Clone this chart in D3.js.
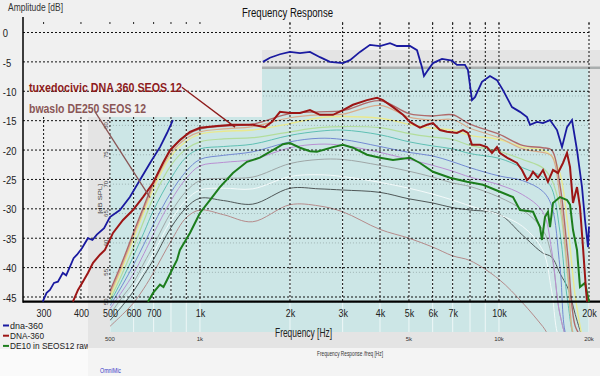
<!DOCTYPE html>
<html><head><meta charset="utf-8">
<script src="https://cdn.jsdelivr.net/npm/d3@7"></script>
<style>
html,body{margin:0;padding:0;background:#f0f0f0;overflow:hidden}
svg{display:block}
text{font-family:'Liberation Sans',Arial,sans-serif}
</style></head><body>
<svg id="c" width="600" height="376"></svg>
<script>
// ---------------- DATA ----------------
const xTickValues = [300,400,500,600,700,1000,2000,3000,4000,5000,6000,7000,10000,20000];
const xTickLabels = ['300','400','500','600','700','1k','2k','3k','4k','5k','6k','7k','10k','20k'];
const xGridValues = [300,400,500,600,700,800,900,1000,2000,3000,4000,5000,6000,7000,8000,9000,10000,20000];
const yTickValues = [0,-5,-10,-15,-20,-25,-30,-35,-40,-45];
const omniGridDb = [90,85,80,75,70,65,60,55,50];
const omniLabelDb = [80,75,70,65,60,55,50];
const omniXTicks = [500,1000,5000,10000,20000];
const omniXLabels = ['500','1k','5k','10k','20k'];
const omniGridFreq = [500,600,700,800,900,1000,2000,3000,4000,5000,6000,7000,8000,9000,10000,20000];
const legendNames = ['dna-360','DNA-360','DE10 in SEOS12 raw'];
const annotationTexts = ['tuxedocivic DNA 360 SEOS 12','bwaslo DE250 SEOS 12'];

// dna-360 (blue) – low and high visible parts
const blueLowFreq = [298,307,315,325,335,348,357,367,378,388,403,422,437,452,478,500,540,583,630,681,735,776,812];
const blueLowDb   = [-45.8,-44.3,-43.8,-42.6,-42.4,-40.9,-41.3,-39.9,-38.4,-37.8,-36.7,-35.0,-35.3,-34.4,-33.3,-31.4,-30.2,-28.0,-25.1,-22.2,-19.5,-17.1,-14.9];
const blueHighFreq = [1624,1714,1852,2000,2160,2333,2520,2721,3008,3175,3429,3704,4000,4320,4559,5039,5319,5527,5613,5788,6016,6448,6962,7235,7695,7875,8122,8311,8772,9330,9846,10313,11053,11752,12408,12699,13401,14036,14812,15632,16246,16884,17545,18235,18951,19393,19848,20000];
const blueHighDb   = [-5.0,-4.3,-3.7,-3.3,-3.5,-3.3,-4.2,-5.0,-5.2,-4.7,-3.3,-2.1,-2.3,-1.8,-2.3,-2.3,-3.0,-5.9,-7.4,-6.4,-5.2,-4.5,-4.8,-5.5,-5.5,-6.4,-11.5,-11.0,-8.4,-7.4,-8.1,-9.8,-12.7,-13.5,-14.4,-15.7,-15.2,-15.4,-14.9,-16.6,-19.5,-16.1,-14.9,-20.0,-26.3,-31.9,-36.5,-33.0];

// DNA-360 (dark red)
const redFreq = [376,391,406,422,439,463,481,512,553,597,645,697,752,794,857,926,1000,1140,1289,1504,1650,1741,1852,2000,2160,2333,2520,2785,3008,3249,3619,3908,4093,4422,4776,5039,5237,5442,5743,6016,6348,6701,7235,7580,7875,8122,8639,9118,9476,9846,10077,10636,11486,11937,12408,12699,12996,13503,14036,14583,15156,15752,16368,16884,17282,17683,18235,18660,19094,19543,19700];
const redDb   = [-45.8,-43.8,-42.4,-40.9,-39.2,-37.8,-37.0,-34.1,-31.9,-30.2,-28.0,-25.6,-22.2,-20.0,-18.3,-16.9,-16.2,-15.9,-15.7,-15.7,-16.1,-15.2,-13.5,-13.7,-13.7,-13.2,-14.0,-14.0,-13.2,-12.3,-11.5,-11.1,-11.5,-12.7,-14.0,-15.2,-15.7,-16.2,-15.7,-15.4,-16.6,-16.9,-17.1,-16.6,-17.1,-19.1,-19.1,-19.5,-20.5,-19.5,-20.5,-21.3,-22.2,-23.4,-25.1,-24.6,-23.7,-24.7,-23.4,-25.4,-23.4,-23.9,-22.2,-20.5,-22.9,-29.0,-26.3,-29.7,-36.5,-43.8,-45.8];

// DE10 in SEOS12 raw (green)
const greenFreq = [670,697,735,755,776,806,838,857,926,1000,1080,1166,1289,1436,1587,1754,1895,2000,2160,2333,2462,2785,3008,3249,3619,4000,4422,5039,5442,6016,6858,7816,8842,10077,11140,11752,12996,13713,13925,14250,14583,14812,15156,15996,16884,17282,17683,18235,18660,19393,19848,20000];
const greenDb   = [-45.8,-44.3,-42.9,-43.3,-42.1,-40.4,-38.7,-37.0,-34.1,-30.7,-28.5,-26.3,-23.9,-22.0,-21.3,-20.0,-19.0,-18.8,-19.6,-20.2,-20.3,-19.5,-19.1,-19.6,-20.8,-21.3,-21.7,-21.3,-22.2,-23.7,-24.7,-25.4,-25.9,-27.1,-28.0,-30.2,-30.5,-33.1,-35.3,-31.4,-30.5,-33.1,-29.0,-28.0,-28.5,-29.3,-33.6,-37.0,-43.3,-42.6,-45.0,-45.8];

// OmniMic overlay curves (same frequency grid)
const omniFreq = [500,550,600,650,700,800,900,1000,1200,1500,2000,2500,3000,4000,5000,6000,7000,8000,10000,12000,14000,15000,16000,17000,18000,19000];
const omniBrown  = [-44.0,-39.0,-34.0,-29.5,-25.5,-20.0,-17.5,-16.4,-15.9,-15.6,-13.8,-13.5,-13.3,-11.6,-13.8,-14.2,-14.0,-15.6,-17.3,-19.2,-19.6,-20.0,-26.0,-38.0,-50.0,-52.0];
const omniTan    = [-44.5,-39.5,-34.5,-30.0,-26.0,-20.5,-18.0,-16.9,-16.4,-16.0,-14.5,-14.0,-13.9,-12.4,-14.4,-14.9,-14.8,-16.3,-17.9,-19.8,-20.4,-21.0,-28.0,-41.0,-52.0,-52.0];
const omniYellow = [-45.0,-40.0,-35.0,-30.5,-26.5,-21.0,-18.5,-17.3,-16.8,-16.6,-15.5,-14.5,-14.3,-14.6,-15.6,-16.3,-16.6,-17.5,-18.2,-19.5,-20.0,-21.0,-24.0,-33.0,-45.0,-52.0];
const omniLtGreen= [-45.5,-41.0,-36.5,-32.0,-28.0,-22.6,-19.8,-18.6,-18.1,-17.9,-16.9,-16.2,-16.0,-16.2,-17.2,-17.8,-18.2,-19.2,-20.2,-21.6,-23.0,-25.0,-30.0,-42.0,-52.0,-52.0];
const omniTeal   = [-46.0,-42.0,-38.0,-34.0,-30.2,-24.8,-21.2,-19.8,-19.4,-19.0,-17.5,-16.8,-16.6,-17.4,-18.6,-19.3,-19.8,-20.6,-21.4,-23.0,-24.6,-26.5,-34.0,-46.0,-52.0,-52.0];
const omniBlue   = [-46.5,-43.0,-39.5,-36.0,-32.6,-27.2,-23.6,-21.6,-20.9,-20.3,-18.6,-18.0,-18.2,-19.4,-20.4,-21.0,-22.0,-23.0,-24.4,-25.2,-27.0,-29.5,-40.0,-52.0,-52.0,-52.0];
const omniPurple = [-47.0,-44.0,-41.0,-37.6,-34.2,-28.6,-24.8,-22.7,-22.1,-21.6,-19.6,-19.0,-19.2,-20.4,-21.6,-22.6,-23.6,-24.6,-25.9,-27.6,-30.5,-37.0,-48.0,-52.0,-52.0,-52.0];
const omniGray   = [-48.0,-45.0,-42.5,-39.2,-36.2,-30.6,-27.0,-25.2,-24.8,-24.6,-22.3,-21.6,-21.6,-22.6,-23.6,-24.6,-25.6,-26.2,-28.0,-30.2,-33.5,-38.0,-48.0,-52.0,-52.0,-52.0];
const omniWhite  = [-48.5,-46.0,-43.5,-40.5,-37.5,-32.0,-28.5,-26.8,-26.5,-26.6,-24.5,-24.2,-24.5,-25.5,-26.5,-27.5,-28.5,-29.5,-31.0,-33.0,-37.0,-44.0,-52.0,-52.0,-52.0,-52.0];
const omniDkGray = [-49.0,-46.5,-44.0,-41.2,-38.6,-33.2,-29.8,-28.2,-28.6,-29.2,-26.5,-26.6,-26.8,-27.2,-28.3,-29.0,-29.8,-30.2,-30.9,-34.5,-37.5,-38.2,-41.0,-43.5,-48.0,-52.0];
const omniRose   = [-50.0,-48.0,-46.0,-43.5,-40.8,-35.5,-31.5,-30.2,-31.0,-32.2,-29.3,-29.5,-30.5,-33.5,-35.0,-36.5,-38.0,-38.8,-42.0,-46.0,-50.0,-52.0,-52.0,-52.0,-52.0,-52.0];

// annotation pointers (freq, dB)
const tuxPointer = [[870,-9.3],[1310,-16.1]];
const bwPointer  = [[446,-13.5],[681,-28.1]];

// ---------------- CHART ----------------
const svg = d3.select('#c');
const x = d3.scaleLog().domain([256, 20000]).range([23, 589]);
const y = d3.scaleLinear().domain([0, -45]).range([32.5, 297]);
const OMNI_OFFSET = 95.8;
const yo = v => y(v - OMNI_OFFSET);
const axisY = y(-45.8);

function ntext(parent, px, py, size, str, len, fill, anchor){
  const t = parent.append('text').attr('x',px).attr('y',py).attr('font-size',size)
    .attr('fill',fill).text(str);
  if (len) t.attr('textLength',len).attr('lengthAdjust','spacingAndGlyphs');
  if (anchor) t.attr('text-anchor',anchor);
  return t;
}

// backgrounds / overlay panels
svg.append('rect').attr('width',600).attr('height',376).attr('fill','#f0f0f0');
const cyanL = x(500), cyanR = x(20000), lowTop = 117, upTop = 69, cyanBot = 332, upLeft = 262;
svg.append('rect').attr('x',88).attr('y',lowTop).attr('width',512).attr('height',376-lowTop).attr('fill','#e4e4e4');
svg.append('rect').attr('x',upLeft).attr('y',50).attr('width',600-upLeft).attr('height',lowTop-50).attr('fill','#e4e4e4');
svg.append('rect').attr('x',upLeft).attr('y',upTop-2.5).attr('width',600-upLeft).attr('height',2.5).attr('fill','#a9aeae');
svg.append('rect').attr('x',cyanL).attr('y',lowTop).attr('width',cyanR-cyanL).attr('height',cyanBot-lowTop).attr('fill','#cce6e6');
svg.append('rect').attr('x',upLeft).attr('y',upTop).attr('width',cyanR-upLeft).attr('height',lowTop-upTop+1).attr('fill','#cce6e6');
svg.append('rect').attr('x',88).attr('y',348).attr('width',512).attr('height',28).attr('fill','#f4f4f4');

// clips
const defs = svg.append('defs');
const cp = defs.append('clipPath').attr('id','omniClip');
cp.append('rect').attr('x',cyanL).attr('y',lowTop).attr('width',cyanR-cyanL).attr('height',cyanBot-lowTop);
cp.append('rect').attr('x',upLeft).attr('y',upTop).attr('width',cyanR-upLeft).attr('height',lowTop-upTop+1);
defs.append('clipPath').attr('id','legClip').append('rect').attr('x',0).attr('y',300).attr('width',88).attr('height',49);

const og = svg.append('g').attr('clip-path','url(#omniClip)');
og.selectAll('line.ov').data(omniGridFreq).join('line')
  .attr('x1',d=>x(d)).attr('x2',d=>x(d)).attr('y1',upTop).attr('y2',cyanBot)
  .attr('stroke','#eef7f7').attr('stroke-width',1);
og.selectAll('line.oh').data(omniGridDb).join('line')
  .attr('x1',cyanL).attr('x2',cyanR).attr('y1',d=>yo(d)).attr('y2',d=>yo(d))
  .attr('stroke','#9fb4b4').attr('stroke-width',1).attr('stroke-dasharray','1,2');

const lineGen = d3.line().x(d=>x(d[0])).y(d=>y(d[1]));
const smooth = d3.line().x(d=>x(d[0])).y(d=>y(d[1])).curve(d3.curveCatmullRom.alpha(0.5));
const pairs = (f,v)=>f.map((ff,i)=>[ff,v[i]]);

const omniSeries = [
  [omniRose,'#b58a8a',1],[omniDkGray,'#4f5757',1],[omniWhite,'#f4fafa',1],[omniGray,'#9ea6a6',1],
  [omniPurple,'#b98fd2',1],[omniBlue,'#7389d2',1],[omniTeal,'#5fbfb3',1],[omniLtGreen,'#b3dd9c',1.2],
  [omniYellow,'#e9e98f',1.4],[omniTan,'#d9ab8c',1.2],[omniBrown,'#b06a6a',1.4]
];
omniSeries.forEach(([vals,col,w])=>{
  og.append('path').datum(pairs(omniFreq,vals)).attr('d',smooth)
    .attr('fill','none').attr('stroke',col).attr('stroke-width',w);
});

// omni labels
svg.selectAll('text.oyl').data(omniLabelDb).join('text')
  .attr('transform',d=>`translate(107.5,${yo(d)}) rotate(-90)`)
  .attr('text-anchor','middle').attr('font-size',6).attr('fill','#444').text(d=>d);
svg.append('text').attr('transform',`translate(101.5,${(yo(70)+yo(65))/2}) rotate(-90)`)
  .attr('text-anchor','middle').attr('font-size',6).attr('fill','#333')
  .attr('textLength',30).attr('lengthAdjust','spacingAndGlyphs').text('[dB SPL]');
svg.selectAll('text.oxl').data(omniXTicks).join('text')
  .attr('x',d=>x(d)).attr('y',341).attr('text-anchor','middle')
  .attr('font-size',6).attr('fill','#333').text((d,i)=>omniXLabels[i]);
ntext(svg,317,356,7,'Frequency Response /freq [Hz]',66,'#333');
ntext(svg,100,373,7,'OmniMic',21,'#3a3ac8');

// main grid
const gg = svg.append('g');
gg.selectAll('line.h').data(yTickValues).join('line')
  .attr('x1',23).attr('x2',x(20000)).attr('y1',d=>y(d)).attr('y2',d=>y(d))
  .attr('stroke','#111').attr('stroke-width',1).attr('stroke-dasharray','2,2');
gg.selectAll('line.v').data(xGridValues).join('line')
  .attr('x1',d=>x(d)).attr('x2',d=>x(d)).attr('y1',d=>d<1700?lowTop:23).attr('y2',axisY)
  .attr('stroke','#111').attr('stroke-width',1).attr('stroke-dasharray','2,2');
gg.selectAll('line.t').data(xGridValues).join('line')
  .attr('x1',d=>x(d)).attr('x2',d=>x(d)).attr('y1',22).attr('y2',24)
  .attr('stroke','#222').attr('stroke-width',1);

// axes
svg.append('line').attr('x1',23).attr('x2',23).attr('y1',17).attr('y2',axisY+1).attr('stroke','#000').attr('stroke-width',1.5);
svg.append('line').attr('x1',23).attr('x2',600).attr('y1',axisY).attr('y2',axisY).attr('stroke','#000').attr('stroke-width',2.2);

const xAxis = d3.axisBottom(x).tickValues(xTickValues).tickFormat((d,i)=>xTickLabels[i]).tickSize(0).tickPadding(7.5);
const xa = svg.append('g').attr('transform',`translate(0,${axisY})`).call(xAxis);
xa.select('.domain').remove();
xa.selectAll('text').attr('font-size',11.5).attr('fill','#222').attr('font-family',null)
  .attr('transform','scale(0.78,1)');

const yAxis = d3.axisLeft(y).tickValues(yTickValues).tickFormat(d=>d).tickSize(0);
const ya = svg.append('g').call(yAxis);
ya.select('.domain').remove();
ya.selectAll('text').attr('x',3.5).attr('text-anchor','start').attr('dy','0.36em')
  .attr('font-size',11.5).attr('fill','#222').attr('font-family',null)
  .attr('transform','scale(0.82,1)');

// titles
ntext(svg,8,11,11,'Amplitude [dB]',55,'#333');
ntext(svg,242,17,12.5,'Frequency Response',91,'#111');
ntext(svg,275,337,12,'Frequency [Hz]',57,'#222');

// main curves
const mg = svg.append('g').attr('fill','none');
mg.append('path').datum(pairs(blueLowFreq,blueLowDb)).attr('d',lineGen).attr('stroke','#1a1aa0').attr('stroke-width',1.8);
mg.append('path').datum(pairs(blueHighFreq,blueHighDb)).attr('d',lineGen).attr('stroke','#1a1aa0').attr('stroke-width',1.8);
mg.append('path').datum(pairs(greenFreq,greenDb)).attr('d',lineGen).attr('stroke','#1c7d1c').attr('stroke-width',2);
mg.append('path').datum(pairs(redFreq,redDb)).attr('d',lineGen).attr('stroke','#9c1515').attr('stroke-width',2);

// annotations
svg.append('path').datum(tuxPointer).attr('d',lineGen).attr('stroke','#8e1b1b').attr('stroke-width',1.3).attr('fill','none');
svg.append('path').datum(bwPointer).attr('d',lineGen).attr('stroke','#8a5656').attr('stroke-width',1.3).attr('fill','none');
ntext(svg,29,92,12,annotationTexts[0],153,'#8e1b1b')
  .attr('font-family','Lato, "Open Sans", sans-serif').attr('font-weight','bold');
ntext(svg,29,113,12,annotationTexts[1],117,'#8a5656')
  .attr('font-family','Lato, "Open Sans", sans-serif').attr('font-weight','bold');

// legend (clipped by the pasted overlay at its right edge)
const legColors = ['#1a1aa0','#9c1515','#1c7d1c'];
const legLens = [33,34,80];
const lg = svg.append('g').attr('clip-path','url(#legClip)');
legendNames.forEach((n,i)=>{
  const by = 329 + i*10.2;
  lg.append('line').attr('x1',3).attr('x2',9).attr('y1',by-3.5).attr('y2',by-3.5).attr('stroke',legColors[i]).attr('stroke-width',2);
  ntext(lg,10,by,9.5,n,legLens[i],'#222');
});
svg.append('rect').attr('x',0).attr('y',349).attr('width',88).attr('height',27).attr('fill','#fafafa');
</script>
</body></html>
